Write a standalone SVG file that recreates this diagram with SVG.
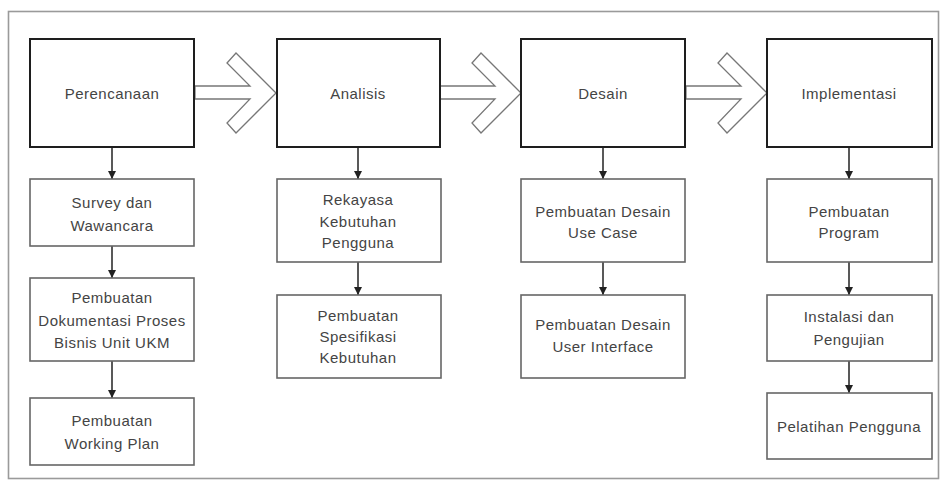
<svg xmlns="http://www.w3.org/2000/svg" width="942" height="482" viewBox="0 0 942 482">
<defs>
<style>
.frame{fill:#fff;stroke:#9a9a9a;stroke-width:1.6}
.main{fill:#fff;stroke:#1e1e1e;stroke-width:2}
.sub{fill:#fff;stroke:#666;stroke-width:1.6}
.big{fill:#fff;stroke:#777;stroke-width:1.3}
.edge{stroke:#222;stroke-width:1.5;fill:none;marker-end:url(#ah)}
text{font-family:"Liberation Sans",Arial,sans-serif;font-size:15px;fill:#444;text-anchor:middle;letter-spacing:0.5px}
</style>
<marker id="ah" viewBox="0 0 10 10" refX="10" refY="5" markerWidth="8" markerHeight="8" markerUnits="userSpaceOnUse" orient="auto">
<path d="M0,0 L10,5 L0,10 Z" fill="#222"/>
</marker>
<path id="chev" d="M-81,-7 L-26,-7 L-49,-30 L-40,-40 L0,0 L-40,40 L-49,30 L-26,6 L-81,6 Z"/>
</defs>
<rect class="frame" x="8.5" y="11.5" width="930" height="467"/>

<g id="bigarrows">
<use href="#chev" class="big" transform="translate(276,93)"/>
<use href="#chev" class="big" transform="translate(521,93)"/>
<use href="#chev" class="big" transform="translate(767,93)"/>
</g>

<g id="connectors">
<line class="edge" x1="112" y1="148" x2="112" y2="179"/>
<line class="edge" x1="112" y1="246" x2="112" y2="278"/>
<line class="edge" x1="112" y1="361" x2="112" y2="398"/>
<line class="edge" x1="358" y1="148" x2="358" y2="179"/>
<line class="edge" x1="358" y1="262" x2="358" y2="295"/>
<line class="edge" x1="603" y1="148" x2="603" y2="179"/>
<line class="edge" x1="603" y1="262" x2="603" y2="295"/>
<line class="edge" x1="849" y1="148" x2="849" y2="179"/>
<line class="edge" x1="849" y1="262" x2="849" y2="295"/>
<line class="edge" x1="849" y1="361" x2="849" y2="393"/>
</g>

<g id="perencanaan"><rect class="main" x="30" y="39" width="164" height="108"/><text x="112" y="99">Perencanaan</text></g>
<g id="analisis"><rect class="main" x="277" y="39" width="163" height="108"/><text x="358" y="99">Analisis</text></g>
<g id="desain"><rect class="main" x="521" y="39" width="164" height="108"/><text x="603" y="99">Desain</text></g>
<g id="implementasi"><rect class="main" x="767" y="39" width="165" height="108"/><text x="849" y="99">Implementasi</text></g>

<g id="survey"><rect class="sub" x="30" y="179" width="164" height="67"/><text x="112" y="208">Survey dan</text><text x="112" y="231">Wawancara</text></g>
<g id="dokumentasi"><rect class="sub" x="30" y="278" width="164" height="83"/><text x="112" y="303">Pembuatan</text><text x="112" y="326">Dokumentasi Proses</text><text x="112" y="348">Bisnis Unit UKM</text></g>
<g id="workingplan"><rect class="sub" x="30" y="398" width="164" height="67"/><text x="112" y="426">Pembuatan</text><text x="112" y="449">Working Plan</text></g>

<g id="rekayasa"><rect class="sub" x="277" y="179" width="164" height="83"/><text x="358" y="205">Rekayasa</text><text x="358" y="227">Kebutuhan</text><text x="358" y="248">Pengguna</text></g>
<g id="spesifikasi"><rect class="sub" x="277" y="295" width="164" height="83"/><text x="358" y="321">Pembuatan</text><text x="358" y="342">Spesifikasi</text><text x="358" y="363">Kebutuhan</text></g>

<g id="usecase"><rect class="sub" x="521" y="179" width="164" height="83"/><text x="603" y="217">Pembuatan Desain</text><text x="603" y="238">Use Case</text></g>
<g id="userinterface"><rect class="sub" x="521" y="295" width="164" height="83"/><text x="603" y="330">Pembuatan Desain</text><text x="603" y="352">User Interface</text></g>

<g id="program"><rect class="sub" x="767" y="179" width="165" height="83"/><text x="849" y="217">Pembuatan</text><text x="849" y="238">Program</text></g>
<g id="instalasi"><rect class="sub" x="767" y="295" width="165" height="66"/><text x="849" y="322">Instalasi dan</text><text x="849" y="345">Pengujian</text></g>
<g id="pelatihan"><rect class="sub" x="767" y="393" width="165" height="66"/><text x="849" y="432">Pelatihan Pengguna</text></g>
</svg>
